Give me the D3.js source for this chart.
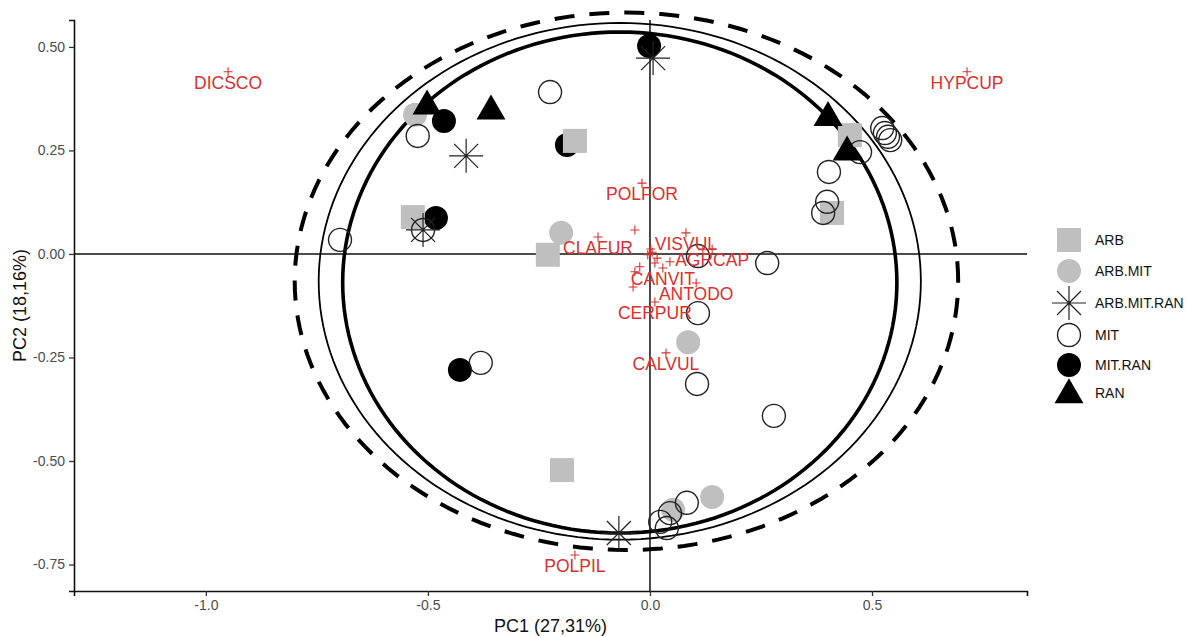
<!DOCTYPE html>
<html><head><meta charset="utf-8">
<script src="https://cdn.jsdelivr.net/npm/d3@7"></script>
<style>body{margin:0;background:#fff}svg{display:block;font-family:"Liberation Sans",Arial,sans-serif}</style>
</head><body><svg id="c" width="1195" height="637"></svg>
<script>
// ---------- DATA ----------
const groups = ["ARB","ARB.MIT","ARB.MIT.RAN","MIT","MIT.RAN","RAN"];

const arbPC1 = [-0.169,-0.534,-0.230,-0.198,0.450,0.410];
const arbPC2 = [0.273,0.089,-0.002,-0.522,0.287,0.099];

const arbMitPC1 = [-0.529,-0.200,0.086,0.140,0.052];
const arbMitPC2 = [0.336,0.051,-0.213,-0.587,-0.618];

const arbMitRanPC1 = [0.007,-0.414,-0.511,-0.070];
const arbMitRanPC2 = [0.473,0.237,0.058,-0.674];

const mitPC1 = [-0.225,-0.523,-0.698,-0.511,-0.381,0.108,0.264,0.108,0.106,0.279,0.473,0.523,0.529,0.536,0.541,0.403,0.399,0.390,0.083,0.045,0.023,0.038];
const mitPC2 = [0.391,0.285,0.034,0.058,-0.263,-0.005,-0.022,-0.143,-0.314,-0.391,0.246,0.304,0.292,0.283,0.275,0.198,0.126,0.099,-0.601,-0.626,-0.647,-0.662];

const mitRanPC1 = [-0.002,-0.464,-0.187,-0.482,-0.428];
const mitRanPC2 = [0.502,0.321,0.263,0.087,-0.280];

const ranPC1 = [-0.502,-0.358,0.401,0.444];
const ranPC2 = [0.357,0.345,0.329,0.246];

// species loadings (labelled)
const varNames = ["DICSCO","HYPCUP","POLFOR","CLAFUR","VISVUL","AGRCAP","CANVIT","ANTODO","CERPUR","CALVUL","POLPIL"];
const varPC1 = [-0.950,0.714,-0.018,-0.117,0.081,0.140,0.029,0.104,0.011,0.036,-0.169];
const varPC2 = [0.440,0.440,0.171,0.041,0.051,0.012,-0.034,-0.070,-0.116,-0.239,-0.727];
// species loadings whose labels are hidden by overlap
const hidPC1 = [-0.034,0.002,-0.005,0.119,0.011,-0.023,-0.034,-0.038,0.016,0.045,0.000,0.005];
const hidPC2 = [0.058,0.012,-0.002,0.010,-0.022,-0.031,-0.043,-0.080,-0.010,-0.019,0.000,0.004];

// ellipses: centre and radii in PC units (thick, thin, dashed)
const ellCX = [-0.068,-0.068,-0.053];
const ellCY = [-0.069,-0.066,-0.066];
const ellRX = [0.624,0.678,0.747];
const ellRY = [0.605,0.624,0.649];

const xTicks = [-1.0,-0.5,0.0,0.5];
const yTicks = [-0.75,-0.50,-0.25,0.00,0.25,0.50];
const xLimits = [-1.297,0.849];
const yLimits = [-0.814,0.565];
const xTitle = "PC1 (27,31%)";
const yTitle = "PC2 (18,16%)";

// ---------- DRAW ----------
const svg = d3.select("#c");
const L = 74, R = 1027, T = 20, B = 591;
const x = d3.scaleLinear().domain(xLimits).range([L, R]);
const y = d3.scaleLinear().domain(yLimits).range([B, T]);
const loc = d3.formatLocale({decimal:".",thousands:",",grouping:[3],currency:["",""],minus:"-"});

const GREY = "#bfbfbf", RED = "#d93030";

// reference lines
svg.append("line").attr("x1", x(xLimits[0])).attr("x2", x(xLimits[1])).attr("y1", y(0)).attr("y2", y(0))
  .attr("stroke","#111").attr("stroke-width",1.5);
svg.append("line").attr("x1", x(0)).attr("x2", x(0)).attr("y1", y(yLimits[1])).attr("y2", y(yLimits[0]))
  .attr("stroke","#111").attr("stroke-width",1.5);

// ellipses
const angles = d3.range(0, 361, 2).map(d => d * Math.PI / 180);
const ellStyles = [{w:3.6, dash:null},{w:1.8, dash:null},{w:4, dash:"20,15"}];
ellCX.forEach((cx, i) => {
  const line = d3.line().x(a => x(cx + ellRX[i]*Math.cos(a))).y(a => y(ellCY[i] + ellRY[i]*Math.sin(a)));
  svg.append("path").attr("d", line(angles)).attr("fill","none").attr("stroke","#000")
    .attr("stroke-width", ellStyles[i].w).attr("stroke-dasharray", ellStyles[i].dash);
});

// axes
const ax = svg.append("g").attr("transform", `translate(0,${B})`)
  .call(d3.axisBottom(x).tickValues(xTicks).tickFormat(loc.format(".1f")).tickSizeOuter(0).tickSize(5).tickPadding(4));
const ay = svg.append("g").attr("transform", `translate(${L},0)`)
  .call(d3.axisLeft(y).tickValues(yTicks).tickFormat(loc.format(".2f")).tickSizeOuter(0).tickSize(5).tickPadding(4));
[ax, ay].forEach(g => {
  g.select(".domain").attr("stroke","#111").attr("stroke-width",1.6);
  g.selectAll(".tick line").attr("stroke","#333").attr("stroke-width",1.3);
  g.selectAll(".tick text").attr("fill","#4d4d4d").style("font-size","14px").style("font-family","'Liberation Sans',Arial,sans-serif");
});
svg.append("text").attr("x",(L+R)/2).attr("y",632).attr("text-anchor","middle").style("font-size","18px").attr("fill","#111").text(xTitle);
svg.append("text").attr("transform",`translate(26,${(T+B)/2}) rotate(-90)`).attr("text-anchor","middle").style("font-size","18px").attr("fill","#111").text(yTitle);

// symbol drawers
function drawSquare(g, cx, cy) {
  g.append("rect").attr("x", cx-12).attr("y", cy-12).attr("width",24).attr("height",24).attr("fill",GREY);
}
function drawDisc(g, cx, cy, fill) {
  g.append("circle").attr("cx",cx).attr("cy",cy).attr("r",12).attr("fill",fill);
}
function drawRing(g, cx, cy) {
  g.append("circle").attr("cx",cx).attr("cy",cy).attr("r",11.5).attr("fill","none").attr("stroke","#222").attr("stroke-width",1.4);
}
function drawStar(g, cx, cy) {
  const p = 17, d = 12;
  g.append("path").attr("d",`M${cx-p},${cy}H${cx+p}M${cx},${cy-p}V${cy+p}M${cx-d},${cy-d}L${cx+d},${cy+d}M${cx-d},${cy+d}L${cx+d},${cy-d}`)
    .attr("stroke","#222").attr("stroke-width",1.2).attr("fill","none");
}
function drawTri(g, cx, cy) {
  const r = 16.7, hx = r*0.866;
  g.append("path").attr("d",`M${cx},${cy-r}L${cx+hx},${cy+r/2}L${cx-hx},${cy+r/2}Z`).attr("fill","#000");
}

const pts = svg.append("g");
arbMitPC1.forEach((v,i) => drawDisc(pts, x(v), y(arbMitPC2[i]), GREY));
mitRanPC1.forEach((v,i) => drawDisc(pts, x(v), y(mitRanPC2[i]), "#000"));
arbPC1.forEach((v,i) => drawSquare(pts, x(v), y(arbPC2[i])));
mitPC1.forEach((v,i) => drawRing(pts, x(v), y(mitPC2[i])));
arbMitRanPC1.forEach((v,i) => drawStar(pts, x(v), y(arbMitRanPC2[i])));
ranPC1.forEach((v,i) => drawTri(pts, x(v), y(ranPC2[i])));

// species pluses and labels
const sp = svg.append("g");
function plus(cx, cy) {
  sp.append("path").attr("d",`M${cx-4.5},${cy}H${cx+4.5}M${cx},${cy-4.5}V${cy+4.5}`).attr("stroke",RED).attr("stroke-width",1.1);
}
hidPC1.forEach((v,i) => plus(x(v), y(hidPC2[i])));
varPC1.forEach((v,i) => plus(x(v), y(varPC2[i])));
varNames.forEach((n,i) => {
  sp.append("text").attr("x", x(varPC1[i])).attr("y", y(varPC2[i]) + 17).attr("text-anchor","middle")
    .style("font-size","17.5px").attr("fill",RED).text(n);
});

// legend
const lg = svg.append("g");
const legY = [240,271,303,335,365,393];
const lx = 1069;
drawSquare(lg, lx, legY[0]);
drawDisc(lg, lx, legY[1], GREY);
drawStar(lg, lx, legY[2]);
drawRing(lg, lx, legY[3]);
drawDisc(lg, lx, legY[4], "#000");
drawTri(lg, lx, legY[5]+2);
groups.forEach((gname,i) => {
  lg.append("text").attr("x",1095).attr("y",legY[i]).attr("dy","0.35em").style("font-size","14px").attr("fill","#111").text(gname);
});
</script></body></html>
